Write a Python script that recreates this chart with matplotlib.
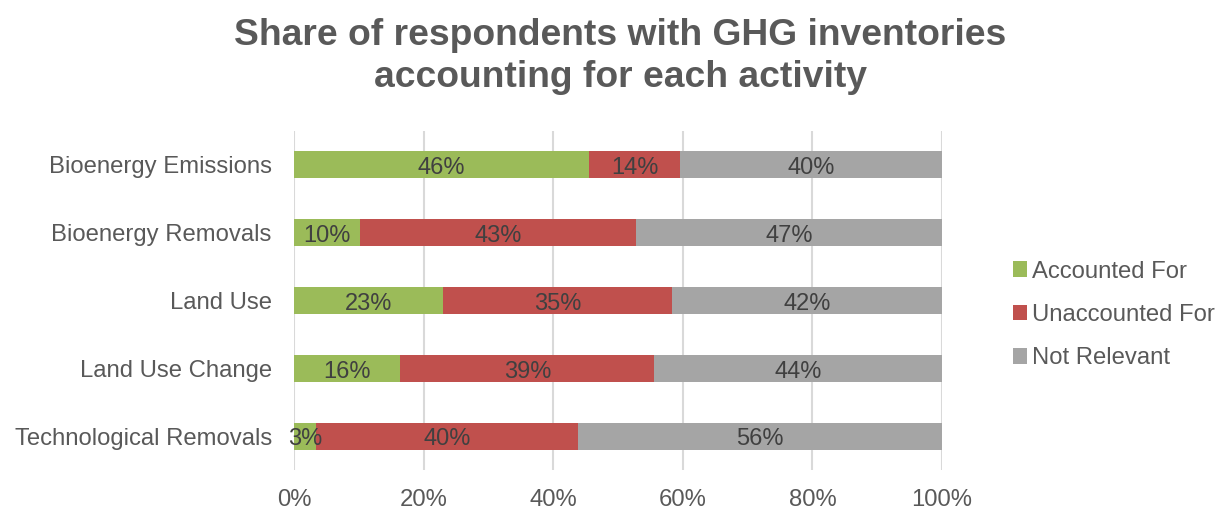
import numpy as np
import matplotlib.pyplot as plt
from matplotlib.patches import Patch

plt.rcParams['font.family'] = ['Liberation Sans', 'DejaVu Sans']

categories = ['Bioenergy Emissions', 'Bioenergy Removals', 'Land Use',
              'Land Use Change', 'Technological Removals']
accounted = [45.5, 10.2, 23.0, 16.4, 3.4]
unaccounted = [14.1, 42.6, 35.3, 39.2, 40.4]
not_relevant = [40.4, 47.2, 41.7, 44.4, 56.2]

series = [('Accounted For', accounted, '#9BBB59'),
          ('Unaccounted For', unaccounted, '#C0504D'),
          ('Not Relevant', not_relevant, '#A5A5A5')]

fig = plt.figure(figsize=(12.28, 5.09), dpi=100)
ax = fig.add_axes([294 / 1228, 1 - 470 / 509, 648 / 1228, 339 / 509])

y = np.arange(len(categories))
left = np.zeros(len(categories))
for name, vals, color in series:
    vals = np.array(vals)
    ax.barh(y, vals, left=left, height=0.4, color=color, label=name, zorder=3)
    for yi, l, v in zip(y, left, vals):
        ax.text(l + v / 2, yi + 0.05, f'{v:.0f}%', ha='center', va='center',
                fontsize=17, color='#404040', zorder=4)
    left += vals

ax.set_xlim(0, 100)
ax.set_ylim(len(categories) - 0.5, -0.5)
ax.set_xticks(range(0, 101, 20))
ax.set_xticklabels([f'{t}%' for t in range(0, 101, 20)])
ax.set_yticks(y)
ax.set_yticklabels(categories)
ax.tick_params(axis='both', length=0, labelsize=17.2, colors='#595959')
ax.tick_params(axis='x', pad=14)
ax.tick_params(axis='y', pad=16)
ax.grid(axis='x', color='#D9D9D9', linewidth=1.5, zorder=0)
for s in ax.spines.values():
    s.set_visible(False)

handles = [Patch(facecolor=c, label=n) for n, _, c in series]
fig.legend(handles=handles, loc='center left', bbox_to_anchor=(991 / 1228, 1 - 315 / 509),
           frameon=False, fontsize=17.2, handlelength=0.6, handleheight=0.6,
           handletextpad=0.2, labelspacing=0.9, labelcolor='#595959')

fig.suptitle('Share of respondents with GHG inventories\naccounting for each activity',
             x=0.505, y=0.965, fontsize=26.8, fontweight='bold', color='#595959',
             linespacing=1.26)

fig.savefig('out.png', dpi=100)
